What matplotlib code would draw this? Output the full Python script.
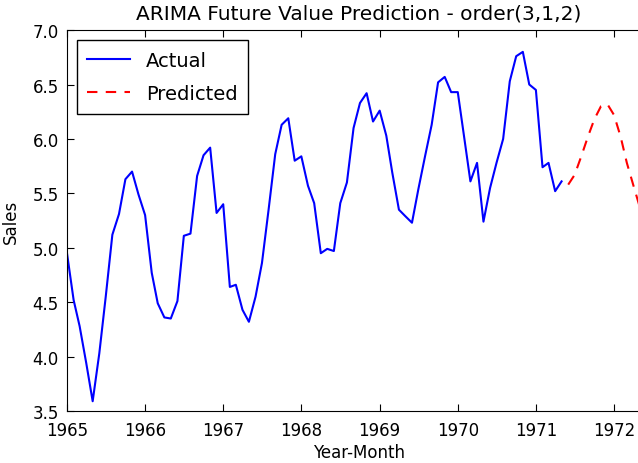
import matplotlib
matplotlib.use("Agg")
import matplotlib.pyplot as plt
import matplotlib.dates as mdates
import pandas as pd

# Monthly sales (log scale), Jan 1965 - May 1971
actual = [
    4.95, 4.52, 4.28, 3.94, 3.59, 4.03, 4.55, 5.12, 5.31, 5.63, 5.70, 5.49,
    5.30, 4.77, 4.49, 4.36, 4.35, 4.51, 5.11, 5.13, 5.66, 5.85, 5.92, 5.32,
    5.40, 4.64, 4.66, 4.43, 4.32, 4.55, 4.86, 5.35, 5.86, 6.13, 6.19, 5.80,
    5.84, 5.57, 5.41, 4.95, 4.99, 4.97, 5.41, 5.60, 6.10, 6.33, 6.42, 6.16,
    6.26, 6.03, 5.69, 5.35, 5.29, 5.23, 5.54, 5.84, 6.13, 6.52, 6.57, 6.43,
    6.43, 6.00, 5.61, 5.78, 5.24, 5.55, 5.78, 6.00, 6.53, 6.76, 6.80, 6.50,
    6.45, 5.74, 5.78, 5.52, 5.61,
]
# ARIMA(3,1,2) forecast, Jun 1971 onwards
predicted = [5.58, 5.67, 5.84, 6.02, 6.18, 6.30, 6.32, 6.22, 6.02, 5.78, 5.57, 5.37]

actual_dates = pd.date_range("1965-01-01", periods=len(actual), freq="MS")
pred_dates = pd.date_range(actual_dates[-1] + pd.DateOffset(months=1),
                           periods=len(predicted), freq="MS")

plt.rcParams["font.family"] = "DejaVu Sans"

fig = plt.figure(figsize=(6.38, 4.64), dpi=100)
ax = fig.add_axes([0.105, 0.112, 0.914, 0.821])

ax.plot(actual_dates, actual, color="#0000ff", linewidth=1.5, label="Actual")
ax.plot(pred_dates, predicted, color="#ff0000", linestyle="--", linewidth=1.5,
        dashes=(5, 4), label="Predicted")

ax.set_ylim(3.5, 7.0)
ax.set_yticks([3.5, 4.0, 4.5, 5.0, 5.5, 6.0, 6.5, 7.0])
ax.yaxis.set_major_formatter(plt.FormatStrFormatter("%.1f"))

start = mdates.date2num(pd.Timestamp("1965-01-01"))
ax.set_xlim(start, start + 7.46 * 365.25)
ax.xaxis.set_major_locator(mdates.YearLocator())
ax.xaxis.set_major_formatter(mdates.DateFormatter("%Y"))

ax.tick_params(direction="in", top=True, right=True, length=5, labelsize=12)
ax.tick_params(axis="x", pad=7)
ax.tick_params(axis="y", pad=6)
ax.spines["right"].set_visible(False)

ax.set_title("ARIMA Future Value Prediction - order(3,1,2)", fontsize=14.5, pad=8)
ax.set_xlabel("Year-Month", fontsize=12, labelpad=3)
ax.set_ylabel("Sales", fontsize=12, labelpad=9)

leg = ax.legend(loc="upper left", fontsize=14, fancybox=False, framealpha=1,
                edgecolor="black", handlelength=2.2, labelspacing=0.75,
                borderpad=0.55, bbox_to_anchor=(0.0, 1.0))
leg.get_frame().set_linewidth(1.0)

fig.savefig("out.png", dpi=100)
